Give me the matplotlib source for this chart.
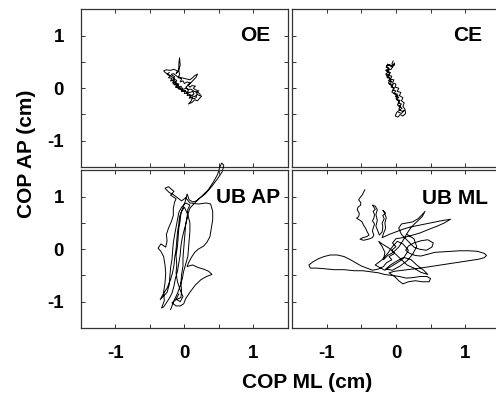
import matplotlib
matplotlib.use("Agg")
import matplotlib.pyplot as plt

plt.rcParams['font.family'] = ['Liberation Sans', 'DejaVu Sans']
plt.rcParams['font.weight'] = 'bold'

# COP traces (cm): x = medio-lateral, y = antero-posterior
oe_x = [-0.22, -0.25, -0.20, -0.23, -0.18, -0.20, -0.15, -0.17, -0.12, -0.14, -0.09, -0.11,
        -0.06, -0.08, -0.03, -0.04, 0.01, 0.00, 0.05, 0.04, 0.09, 0.07, 0.12, 0.10, 0.06,
        0.11, 0.15, 0.19, 0.22, 0.25, 0.20,
        0.17, 0.21, 0.16, 0.13, 0.16, 0.11, 0.08, 0.05, 0.09, 0.04, 0.00, -0.02, -0.06,
        -0.04, -0.09, -0.07, -0.08, -0.08, -0.07, -0.06, -0.09, -0.12, -0.10, -0.15, -0.20,
        -0.26, -0.30, -0.28,
        -0.18, -0.14, -0.18, -0.13, -0.16, -0.10, -0.13, -0.08, -0.05, -0.02, 0.03, 0.06,
        0.03, 0.08, 0.12, 0.14, 0.10, 0.15, 0.18, 0.17, 0.14,
        0.10, 0.08, 0.04, 0.01, -0.03, -0.06, -0.10, -0.08, -0.13, -0.11, -0.16, -0.14,
        -0.19, -0.16,
        -0.10, -0.04, 0.02, 0.08, 0.12, 0.15, 0.19, 0.17, 0.12, 0.06, 0.02, 0.05, 0.10,
        0.14, 0.20, 0.23]
oe_y = [0.30, 0.26, 0.24, 0.20, 0.19, 0.14, 0.15, 0.10, 0.11, 0.06, 0.07, 0.02,
        0.03, -0.02, -0.01, -0.06, -0.05, -0.10, -0.09, -0.14, -0.13, -0.19, -0.17, -0.24, -0.30,
        -0.27, -0.22, -0.24, -0.19, -0.15, -0.13,
        -0.08, -0.05, -0.03, 0.00, 0.04, 0.05, 0.02, 0.07, 0.10, 0.12, 0.09, 0.14, 0.12,
        0.18, 0.20, 0.26, 0.34, 0.46, 0.58, 0.44, 0.32, 0.28, 0.33, 0.36, 0.34,
        0.35, 0.33, 0.30,
        0.22, 0.18, 0.15, 0.13, 0.08, 0.06, 0.02, 0.00, 0.04, -0.02, 0.00, -0.05,
        -0.08, -0.08, -0.06, -0.11, -0.14, -0.16, -0.12, -0.18, -0.20,
        -0.18, -0.12, -0.10, -0.04, -0.06, -0.01, 0.02, 0.08, 0.10, 0.15, 0.18, 0.22,
        0.26, 0.28,
        0.22, 0.20, 0.18, 0.16, 0.20, 0.24, 0.27, 0.21, 0.14, 0.06, 0.02, -0.02, -0.02,
        -0.06, -0.08, -0.12]

ce_x = [-0.04, -0.06, -0.02, -0.08, -0.12, -0.14, -0.10, -0.15, -0.11, -0.15, -0.10, -0.13,
        -0.08, -0.11, -0.06, -0.09, -0.04, -0.07, -0.02, -0.05, 0.00, -0.03, 0.02, -0.01,
        0.04, 0.01, 0.06, 0.03, 0.08, 0.04, 0.09, 0.05, 0.01, -0.01, 0.03, 0.06, 0.10,
        0.14, 0.13, 0.10, 0.12,
        0.08, 0.10, 0.05, 0.07, 0.02, 0.04, -0.01, 0.00, -0.05, -0.03, -0.08, -0.06, -0.11,
        -0.08, -0.13, -0.10, -0.14, -0.09, -0.05, -0.02,
        -0.07, -0.12, -0.09, -0.14, -0.10, -0.07, -0.11, -0.06, -0.03, -0.06, -0.01, 0.03,
        0.00, 0.05, 0.02, 0.07, 0.04, 0.09, 0.12, 0.08, 0.04]
ce_y = [0.52, 0.46, 0.44, 0.42, 0.46, 0.40, 0.38, 0.34, 0.31, 0.27, 0.25, 0.20,
        0.19, 0.14, 0.13, 0.08, 0.07, 0.02, 0.01, -0.04, -0.05, -0.10, -0.11, -0.16,
        -0.17, -0.22, -0.23, -0.28, -0.30, -0.35, -0.38, -0.42, -0.46, -0.53, -0.55, -0.50, -0.53,
        -0.48, -0.40, -0.34, -0.28,
        -0.24, -0.18, -0.14, -0.08, -0.06, 0.00, 0.02, 0.08, 0.10, 0.16, 0.17, 0.23, 0.24,
        0.30, 0.32, 0.37, 0.42, 0.45, 0.40, 0.48,
        0.36, 0.34, 0.28, 0.24, 0.20, 0.16, 0.10, 0.04, -0.02, -0.07, -0.12, -0.14,
        -0.20, -0.26, -0.32, -0.34, -0.40, -0.44, -0.42, -0.48, -0.46]

ubap_x = [-0.08, -0.12, -0.06, -0.02, -0.06, -0.10, -0.12, -0.11, -0.12, -0.10, -0.09, -0.08,
          -0.06, -0.05, -0.02, 0.01, 0.04, 0.07, 0.12, 0.18,
          0.26, 0.34, 0.42, 0.48, 0.51, 0.54, 0.57, 0.55, 0.49, 0.40, 0.30, 0.20, 0.13,
          0.08, 0.05, 0.03, 0.00, -0.03, -0.05, -0.06, -0.08, -0.10, -0.13, -0.15, -0.18,
          -0.22, -0.26, -0.30, -0.33,
          -0.29, -0.30, -0.28, -0.27, -0.28, -0.30, -0.34, -0.38, -0.34, -0.27, -0.25, -0.26,
          -0.23, -0.19, -0.16, -0.16, -0.14, -0.12, -0.20, -0.15, -0.23, -0.28, -0.22, -0.16,
          -0.10, -0.04, 0.02, 0.08, 0.20, 0.32, 0.38,
          0.41, 0.41, 0.39, 0.37, 0.33, 0.28, 0.20, 0.15, 0.10, 0.06, 0.04, 0.12, 0.20, 0.28,
          0.35, 0.40, 0.32, 0.24, 0.16, 0.08, 0.02, -0.01, -0.06, -0.12, -0.18, -0.12, -0.05,
          -0.04, -0.05, -0.04, -0.02, -0.02, -0.01, 0.00, 0.01, 0.02, 0.04, 0.05, 0.08, 0.02,
          -0.04,
          -0.08, -0.10, -0.12, -0.14, -0.16, -0.17, -0.18, -0.20, -0.21, -0.22, -0.25, -0.35,
          -0.31, -0.25,
          -0.20, -0.17, -0.15, -0.14, -0.12, -0.11, -0.10, -0.08, -0.07, -0.04, 0.00, 0.05,
          0.08, 0.08, 0.07, 0.06, 0.05, 0.02, -0.01, -0.03, -0.06, -0.10, -0.15, -0.20]
ubap_y = [-0.85, -0.95, -1.00, -0.90, -0.78, -0.62, -0.45, -0.30, -0.12, 0.05, 0.22, 0.40,
          0.55, 0.68, 0.80, 0.90, 1.05, 0.94, 0.90, 0.92,
          1.02, 1.12, 1.28, 1.42, 1.55, 1.64, 1.60, 1.48, 1.36, 1.20, 1.05, 0.95, 0.85,
          0.78, 0.66, 0.52, 0.38, 0.22, 0.06, -0.10, -0.26, -0.42, -0.56, -0.70, -0.84,
          -0.94, -1.02, -1.10, -1.12,
          -0.98, -0.82, -0.64, -0.46, -0.30, -0.14, -0.04, 0.02, 0.10, 0.04, 0.16, 0.28,
          0.40, 0.52, 0.64, 0.78, 0.90, 0.96, 1.03, 1.10, 1.19, 1.16, 1.08, 1.04,
          0.98, 0.92, 0.98, 0.88, 0.86, 0.88, 0.86,
          0.72, 0.56, 0.40, 0.24, 0.14, 0.06, 0.00, -0.06, -0.16, -0.26, -0.33, -0.30, -0.35, -0.38,
          -0.42, -0.48, -0.52, -0.58, -0.68, -0.82, -0.94, -1.04, -1.08, -1.08, -1.02, -0.96, -0.92,
          -0.80, -0.64, -0.48, -0.32, -0.16, 0.00, 0.16, 0.32, 0.48, 0.62, 0.76, 0.84, 0.88,
          0.80,
          0.70, 0.56, 0.42, 0.28, 0.12, -0.04, -0.20, -0.36, -0.52, -0.68, -0.82, -0.96,
          -0.86, -0.74,
          -0.58, -0.44, -0.30, -0.16, 0.00, 0.16, 0.32, 0.48, 0.62, 0.72, 0.80, 0.66,
          0.50, 0.34, 0.18, 0.02, -0.14, -0.28, -0.42, -0.56, -0.70, -0.84, -0.98, -1.15]

ubml_x = [-0.45, -0.47, -0.49, -0.52, -0.54, -0.51, -0.51, -0.55, -0.56, -0.53, -0.54, -0.57,
          -0.52, -0.49, -0.47, -0.44, -0.42, -0.39, -0.42, -0.48, -0.52, -0.47, -0.40, -0.34,
          -0.32, -0.34, -0.33, -0.31, -0.34, -0.32, -0.31, -0.33, -0.30, -0.34, -0.30, -0.27,
          -0.29, -0.27, -0.29, -0.26, -0.24,
          -0.20, -0.19, -0.20, -0.17, -0.19, -0.15, -0.19, -0.17, -0.14, -0.16, -0.15, -0.18,
          -0.20,
          -0.10, 0.00, 0.10, 0.20, 0.35, 0.50, 0.65, 0.79, 0.70, 0.60, 0.48, 0.35, 0.22,
          0.10, 0.00,
          -0.05, 0.00, -0.06, -0.02, -0.10, -0.06, -0.14, -0.18, -0.26, -0.34,
          -0.42, -0.50, -0.58, -0.66, -0.75, -0.85, -0.95, -1.04, -1.12, -1.20, -1.26, -1.24,
          -1.15, -1.05, -0.90, -0.75, -0.60, -0.48, -0.37,
          -0.25, -0.17, -0.05, 0.05, 0.15, 0.25, 0.35, 0.45, 0.50, 0.48, 0.38, 0.28, 0.18,
          0.10, 0.04, -0.02, -0.10,
          -0.02, 0.10, 0.22, 0.35, 0.50, 0.65, 0.80, 0.95, 1.10, 1.20, 1.28, 1.31, 1.28,
          1.18, 1.05, 0.92, 0.80, 0.68, 0.56, 0.45, 0.36, 0.28, 0.20,
          0.14, 0.18, 0.26, 0.36, 0.46, 0.54, 0.52, 0.44, 0.34, 0.26, 0.20, 0.14, 0.08, 0.04,
          0.08, 0.16, 0.24, 0.32, 0.38, 0.42, 0.38, 0.30, 0.22, 0.16, 0.10, 0.04, -0.04,
          -0.12, -0.18, -0.16, -0.20, -0.25, -0.20, -0.10, 0.00, 0.08, 0.16, 0.26, 0.36, 0.46,
          0.40, 0.30, 0.22, 0.12, 0.04, -0.06, -0.16, -0.22, -0.30,
          -0.20, -0.12, -0.05, 0.02, 0.10, 0.18, 0.12, 0.02, -0.08, -0.15, -0.05, 0.06, 0.16,
          0.24, 0.30, 0.26, 0.16]
ubml_y = [1.13, 1.08, 1.03, 0.98, 0.94, 0.89, 0.84, 0.80, 0.75, 0.68, 0.62, 0.59,
          0.55, 0.52, 0.46, 0.40, 0.34, 0.27, 0.24, 0.22, 0.19, 0.17, 0.19, 0.22,
          0.27, 0.34, 0.40, 0.48, 0.54, 0.59, 0.66, 0.72, 0.76, 0.84, 0.82, 0.75,
          0.66, 0.55, 0.44, 0.34, 0.27,
          0.33, 0.42, 0.50, 0.58, 0.64, 0.69, 0.74, 0.70, 0.60, 0.50, 0.40, 0.30,
          0.22,
          0.28, 0.33, 0.38, 0.42, 0.46, 0.50, 0.54, 0.57, 0.50, 0.44, 0.38, 0.31, 0.26,
          0.22, 0.20,
          0.12, 0.05, -0.02, -0.08, -0.14, -0.20, -0.26, -0.33, -0.38, -0.40,
          -0.36, -0.32, -0.26, -0.20, -0.14, -0.11, -0.11, -0.14, -0.18, -0.24, -0.30, -0.36,
          -0.36, -0.37, -0.39, -0.39, -0.41, -0.41, -0.43,
          -0.45, -0.48, -0.50, -0.52, -0.55, -0.54, -0.52, -0.52, -0.56, -0.62, -0.62, -0.60, -0.62,
          -0.66, -0.60, -0.52, -0.45,
          -0.42, -0.40, -0.38, -0.36, -0.33, -0.30, -0.27, -0.24, -0.21, -0.19, -0.16, -0.12, -0.08,
          -0.04, -0.03, -0.03, -0.04, -0.05, -0.06, -0.10, -0.13, -0.12, -0.08,
          -0.02, 0.06, 0.12, 0.16, 0.18, 0.12, 0.04, -0.02, 0.00, 0.04, 0.12, 0.20, 0.28, 0.40,
          0.48, 0.50, 0.52, 0.58, 0.66, 0.72, 0.62, 0.52, 0.42, 0.30, 0.16, 0.04, -0.06,
          -0.12, -0.20, -0.06, 0.05, 0.15, 0.10, 0.02, -0.10, -0.20, -0.30, -0.36, -0.44, -0.48,
          -0.40, -0.30, -0.20, -0.16, -0.24, -0.32, -0.40, -0.36, -0.30,
          -0.20, -0.08, 0.05, 0.15, 0.10, -0.02, -0.15, -0.22, -0.30, -0.38, -0.40, -0.32, -0.22,
          -0.10, 0.05, 0.20, 0.28]

panels = [
    ('OE', oe_x, oe_y),
    ('CE', ce_x, ce_y),
    ('UB AP', ubap_x, ubap_y),
    ('UB ML', ubml_x, ubml_y),
]

ticks = [-1, -0.5, 0, 0.5, 1]
tick_labels = ['-1', '', '0', '', '1']

fig = plt.figure(figsize=(4.96, 3.93), dpi=100)

# axes boxes in figure fraction: left, bottom, width, height
w, h = 0.418, 0.401
boxes = [
    (0.1627, 0.575, w, h),
    (0.5893, 0.575, w, h),
    (0.1627, 0.1654, w, h),
    (0.5893, 0.1654, w, h),
]
# panel name anchors (axes fraction, right aligned)
name_pos = [(0.913, 0.837), (0.915, 0.837), (0.961, 0.826), (0.944, 0.82)]

for i, ((name, xs, ys), box, (tx, ty)) in enumerate(zip(panels, boxes, name_pos)):
    ax = fig.add_axes(box)
    ax.plot(xs, ys, color='black', linewidth=0.7, clip_on=False)
    ax.set_xlim(-1.5, 1.5)
    ax.set_ylim(-1.5, 1.5)
    ax.set_xticks(ticks)
    ax.set_yticks(ticks)
    ax.tick_params(direction='in', length=3, width=0.7, color='#333333',
                   top=True, right=True, labelsize=13.5, pad=12)
    if i % 2 == 0:
        ax.set_yticklabels(tick_labels)
    else:
        ax.set_yticklabels([])
    if i >= 2:
        ax.set_xticklabels(tick_labels)
    else:
        ax.set_xticklabels([])
    for s in ax.spines.values():
        s.set_color('#333333')
        s.set_linewidth(0.9)
    ax.text(tx, ty, name, transform=ax.transAxes, ha='right', va='center',
            fontsize=15, fontweight='bold')

fig.text(307 / 496, 1 - 383 / 393, 'COP ML (cm)', ha='center', va='center',
         fontsize=15, fontweight='bold')
fig.text(27 / 496, 1 - 154 / 393, 'COP AP (cm)', ha='center', va='center',
         rotation=90, fontsize=15, fontweight='bold')

fig.savefig('out.png', dpi=100)
